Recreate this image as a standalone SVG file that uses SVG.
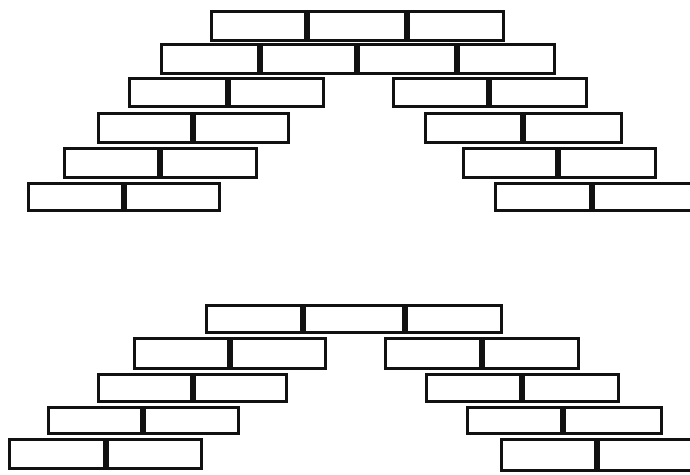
<svg xmlns="http://www.w3.org/2000/svg" width="690" height="475" viewBox="0 0 690 475">
<style>
.b{fill:#fff;stroke:#111;stroke-width:3}
</style>
<rect width="690" height="475" fill="#fff"/>
<g id="upper-arch">
<rect class="b" x="211.5" y="11.5" width="94" height="29"/>
<rect class="b" x="308.5" y="11.5" width="97" height="29"/>
<rect class="b" x="408.5" y="11.5" width="95" height="29"/>
<rect class="b" x="161.5" y="44.5" width="97" height="29"/>
<rect class="b" x="261.5" y="44.5" width="94" height="29"/>
<rect class="b" x="358.5" y="44.5" width="97" height="29"/>
<rect class="b" x="458.5" y="44.5" width="96" height="29"/>
<rect class="b" x="129.5" y="78.5" width="97" height="28"/>
<rect class="b" x="229.5" y="78.5" width="94" height="28"/>
<rect class="b" x="393.5" y="78.5" width="94" height="28"/>
<rect class="b" x="490.5" y="78.5" width="96" height="28"/>
<rect class="b" x="98.5" y="113.5" width="93" height="29"/>
<rect class="b" x="194.5" y="113.5" width="94" height="29"/>
<rect class="b" x="425.5" y="113.5" width="96" height="29"/>
<rect class="b" x="524.5" y="113.5" width="97" height="29"/>
<rect class="b" x="64.5" y="148.5" width="94" height="29"/>
<rect class="b" x="161.5" y="148.5" width="95" height="29"/>
<rect class="b" x="463.5" y="148.5" width="93" height="29"/>
<rect class="b" x="559.5" y="148.5" width="96" height="29"/>
<rect class="b" x="28.5" y="183.5" width="94" height="27"/>
<rect class="b" x="125.5" y="183.5" width="94" height="27"/>
<rect class="b" x="495.5" y="183.5" width="95" height="27"/>
<rect class="b" x="593.5" y="183.5" width="100" height="27"/>
</g>
<g id="lower-arch">
<rect class="b" x="206.5" y="305.5" width="95" height="27"/>
<rect class="b" x="304.5" y="305.5" width="99" height="27"/>
<rect class="b" x="406.5" y="305.5" width="95" height="27"/>
<rect class="b" x="134.5" y="338.5" width="94" height="30"/>
<rect class="b" x="231.5" y="338.5" width="94" height="30"/>
<rect class="b" x="385.5" y="338.5" width="95" height="30"/>
<rect class="b" x="483.5" y="338.5" width="95" height="30"/>
<rect class="b" x="98.5" y="374.5" width="93" height="27"/>
<rect class="b" x="194.5" y="374.5" width="92" height="27"/>
<rect class="b" x="426.5" y="374.5" width="94" height="27"/>
<rect class="b" x="523.5" y="374.5" width="95" height="27"/>
<rect class="b" x="48.5" y="407.5" width="93" height="26"/>
<rect class="b" x="144.5" y="407.5" width="94" height="26"/>
<rect class="b" x="467.5" y="407.5" width="94" height="26"/>
<rect class="b" x="564.5" y="407.5" width="97" height="26"/>
<rect class="b" x="9.5" y="439.5" width="95" height="29"/>
<rect class="b" x="107.5" y="439.5" width="94" height="29"/>
<rect class="b" x="501.5" y="439.5" width="94" height="31"/>
<rect class="b" x="598.5" y="439.5" width="100" height="31"/>
</g>
</svg>
